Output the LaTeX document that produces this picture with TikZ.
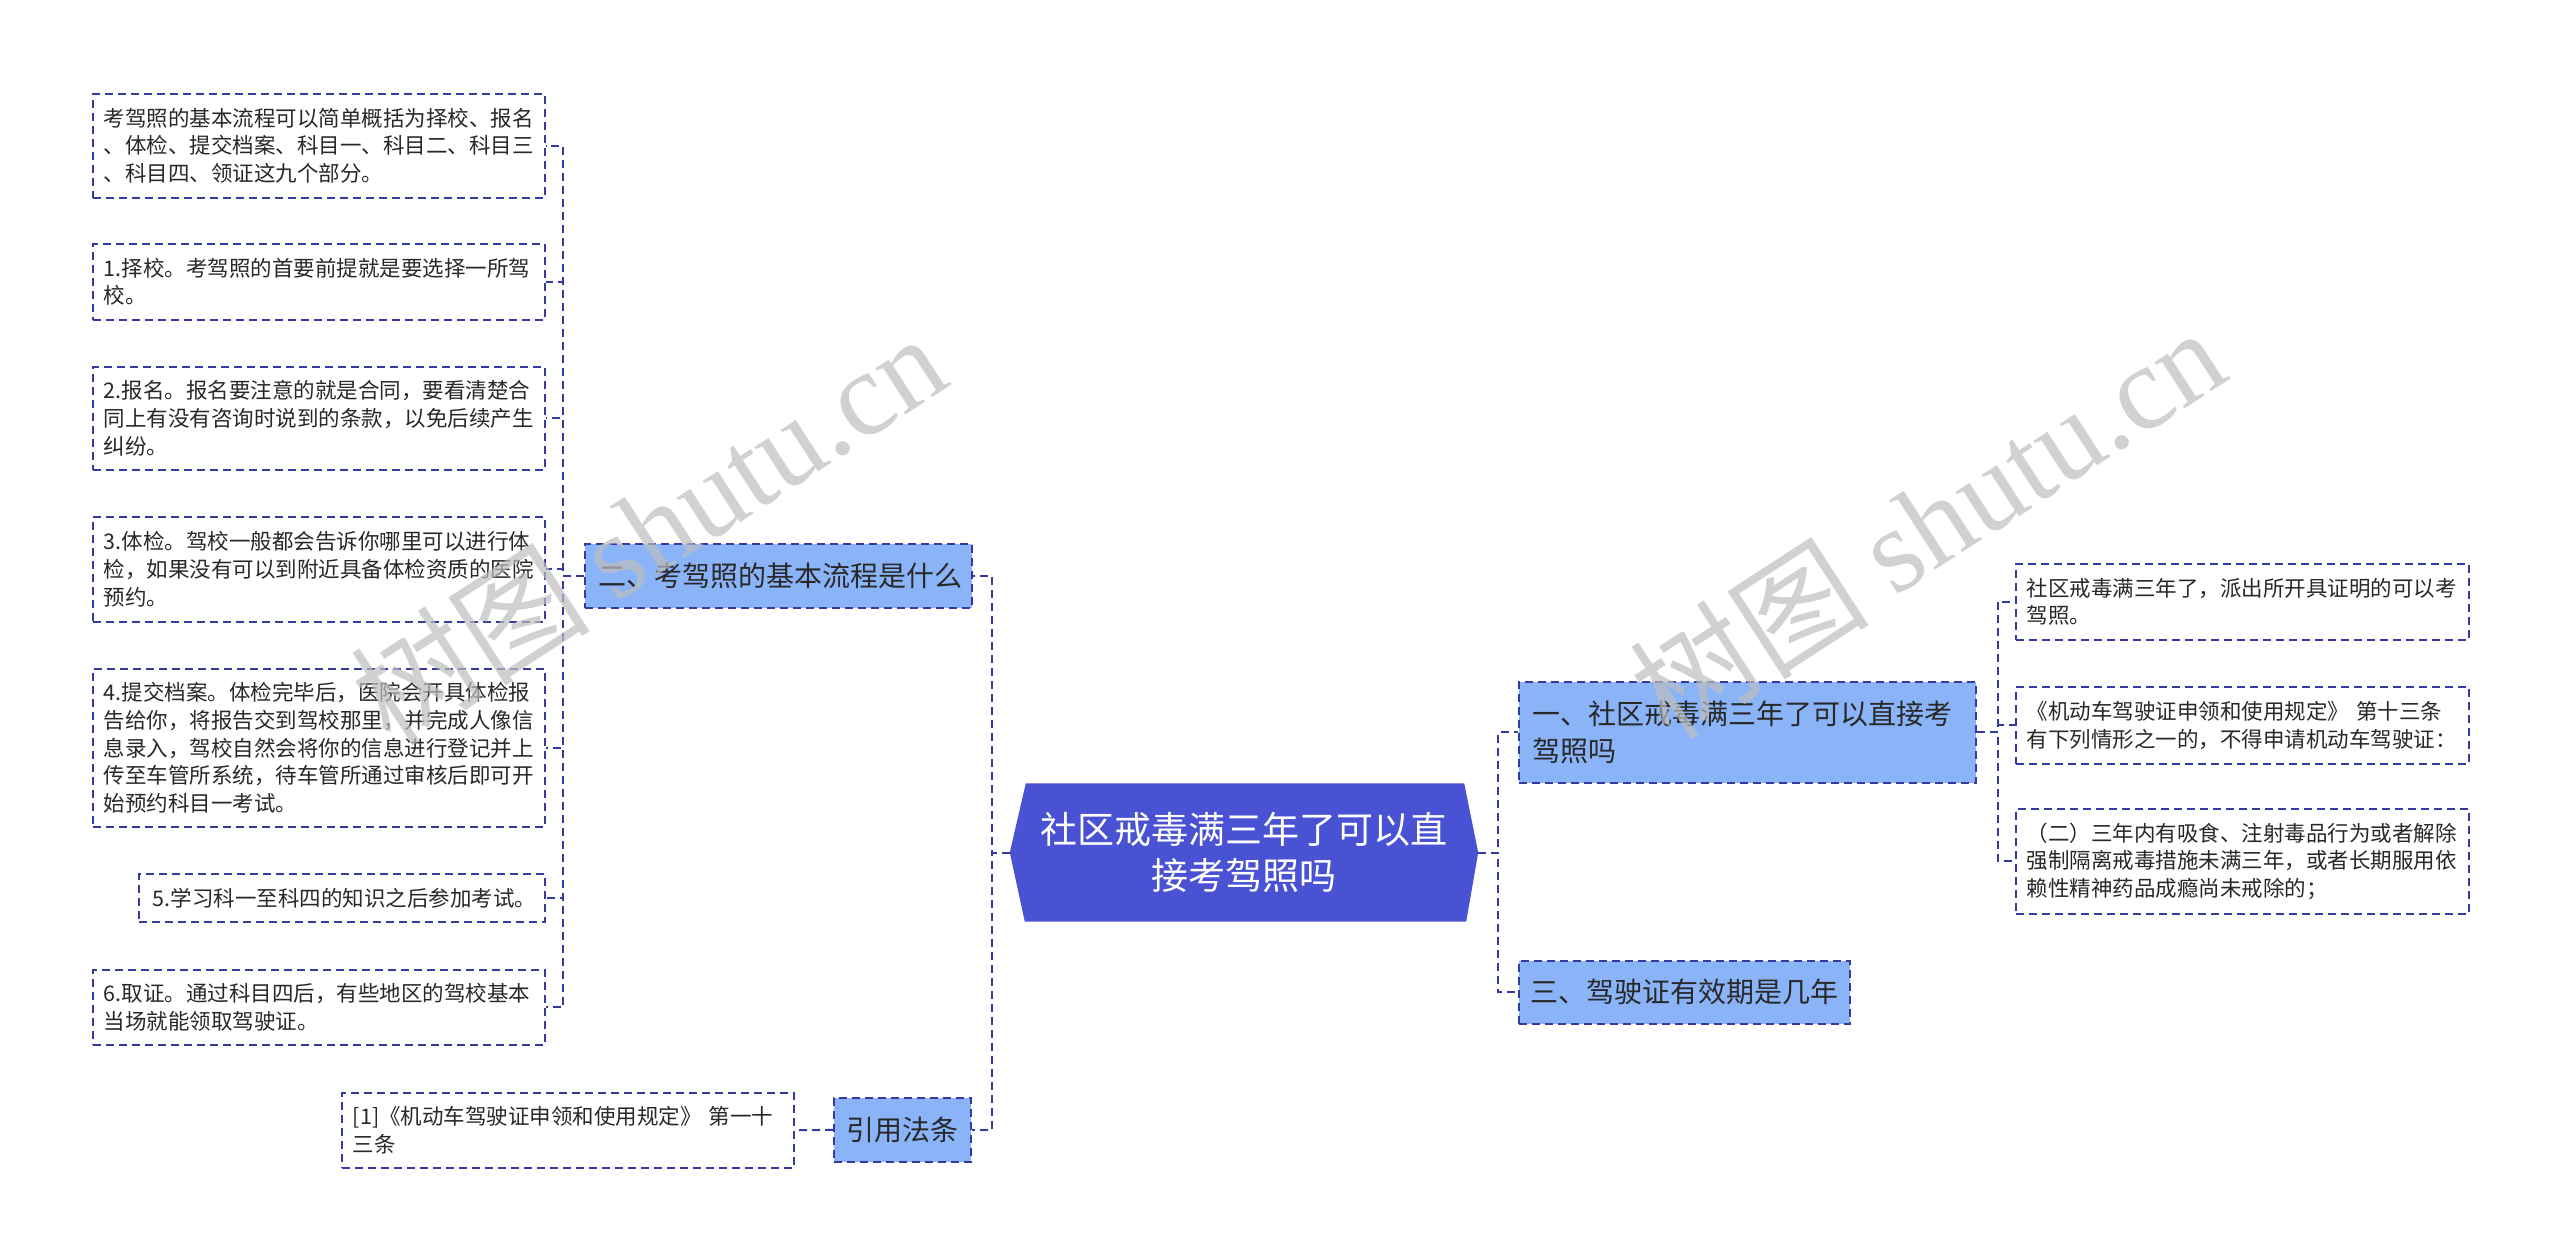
\documentclass[tikz,border=0pt]{standalone}
\usepackage{fontspec}
\setmainfont{Noto Sans CJK SC}
\newfontfamily\wmlatin{Liberation Serif}
\usetikzlibrary{backgrounds}
\definecolor{lineblue}{RGB}{52,58,160}
\definecolor{rootblue}{RGB}{74,82,212}
\definecolor{midblue}{RGB}{139,180,248}
\definecolor{wmgray}{RGB}{190,190,190}
\definecolor{txt}{RGB}{40,40,40}
\tikzset{
  dashpat/.style={dash pattern=on 8pt off 5pt},
  conn/.style={draw=lineblue, line width=2pt, dashpat},
  leaf/.style={draw=lineblue, line width=1.6pt, dashpat, fill=white, anchor=north west,
    align=left, inner xsep=11pt, inner ysep=0pt, font=\fontsize{21.5}{27.7}\selectfont, text=txt},
  mid/.style={draw=lineblue, line width=1.6pt, dashpat, fill=midblue, anchor=north west,
    align=left, inner xsep=14pt, inner ysep=0pt, font=\fontsize{28}{37}\selectfont, text=txt},
  wm/.style={rotate=33, text=wmgray, opacity=0.7, font=\fontsize{120}{124}\selectfont},
}
\begin{document}
\begin{tikzpicture}[x=1pt,y=-1pt]
\useasboundingbox (0,0) rectangle (2560,1260);

% root
\node[font=\fontsize{37}{46}\selectfont, text=white, align=center, minimum width=468pt,
  minimum height=138pt, inner sep=0pt] (root) at (1244,852.5) {社区戒毒满三年了可以直\\接考驾照吗};

% right branch
\node[mid, text width=429pt, minimum height=101pt] (n1) at (1518,681) {一、社区戒毒满三年了可以直接考\\驾照吗};
\node[mid, inner xsep=12pt, text width=307pt, minimum height=63pt] (n3) at (1518,960) {三、驾驶证有效期是几年};
\node[leaf, text width=431pt, minimum height=76pt] (r1) at (2015,563) {社区戒毒满三年了，派出所开具证明的可以考\\驾照。};
\node[leaf, text width=431pt, minimum height=77pt] (r2) at (2015,686) {《机动车驾驶证申领和使用规定》 第十三条\\有下列情形之一的，不得申请机动车驾驶证：};
\node[leaf, text width=431pt, minimum height=105pt] (r3) at (2015,808) {（二）三年内有吸食、注射毒品行为或者解除\\强制隔离戒毒措施未满三年，或者长期服用依\\赖性精神药品成瘾尚未戒除的；};

% left branch
\node[mid, text width=359pt, minimum height=64pt] (n2) at (584,543) {二、考驾照的基本流程是什么};
\node[mid, inner xsep=13pt, text width=111pt, minimum height=64pt] (n4) at (833,1097) {引用法条};

\node[leaf, text width=430pt, minimum height=104pt] (a) at (92,93) {考驾照的基本流程可以简单概括为择校、报名\\、体检、提交档案、科目一、科目二、科目三\\、科目四、领证这九个部分。};
\node[leaf, text width=430pt, minimum height=76pt] (b) at (92,243) {1.择校。考驾照的首要前提就是要选择一所驾\\校。};
\node[leaf, text width=430pt, minimum height=103pt] (c) at (92,366) {2.报名。报名要注意的就是合同，要看清楚合\\同上有没有咨询时说到的条款，以免后续产生\\纠纷。};
\node[leaf, text width=430pt, minimum height=105pt] (d) at (92,516) {3.体检。驾校一般都会告诉你哪里可以进行体\\检，如果没有可以到附近具备体检资质的医院\\预约。};
\node[leaf, text width=430pt, minimum height=158pt] (e) at (92,668) {4.提交档案。体检完毕后，医院会开具体检报\\告给你，将报告交到驾校那里，并完成人像信\\息录入，驾校自然会将你的信息进行登记并上\\传至车管所系统，待车管所通过审核后即可开\\始预约科目一考试。};
\node[leaf, inner xsep=14pt, text width=378pt, minimum height=48pt] (f) at (138,873) {5.学习科一至科四的知识之后参加考试。};
\node[leaf, text width=430pt, minimum height=75pt] (g) at (92,969) {6.取证。通过科目四后，有些地区的驾校基本\\当场就能领取驾驶证。};
\node[leaf, text width=430pt, minimum height=75pt] (h) at (341,1092) {[1]《机动车驾驶证申领和使用规定》 第一十\\三条};

\begin{scope}[on background layer]
  \fill[rootblue] (root.west) -- ([xshift=16pt]root.north west) -- ([xshift=-14pt]root.north east)
    -- (root.east) -- ([xshift=-12pt]root.south east) -- ([xshift=15pt]root.south west) -- cycle;
  % root connectors
  \draw[conn] (root.east) -- ++(20,0) |- (n1.west);
  \draw[conn] (root.east) -- ++(20,0) |- (n3.west);
  \draw[conn] (root.west) -- ++(-18,0) |- (n2.east);
  \draw[conn] (root.west) -- ++(-18,0) |- (n4.east);
  % right leaves
  \draw[conn] (n1.east) -- ++(21,0) |- (r1.west);
  \draw[conn] (n1.east) -- ++(21,0) |- (r2.west);
  \draw[conn] (n1.east) -- ++(21,0) |- (r3.west);
  % left leaves
  \foreach \t in {a,b,c,d,e,f,g}{
    \draw[conn] (n2.west) -- ++(-21,0) |- (\t.east);
  }
  \draw[conn] (n4.west) -- (h.east);
\end{scope}

% watermarks
\node[wm] (wm1) at (648,528) {树图 {\wmlatin shutu.cn}};
\node[wm] (wm2) at (1927,522) {树图 {\wmlatin shutu.cn}};
\end{tikzpicture}
\end{document}
